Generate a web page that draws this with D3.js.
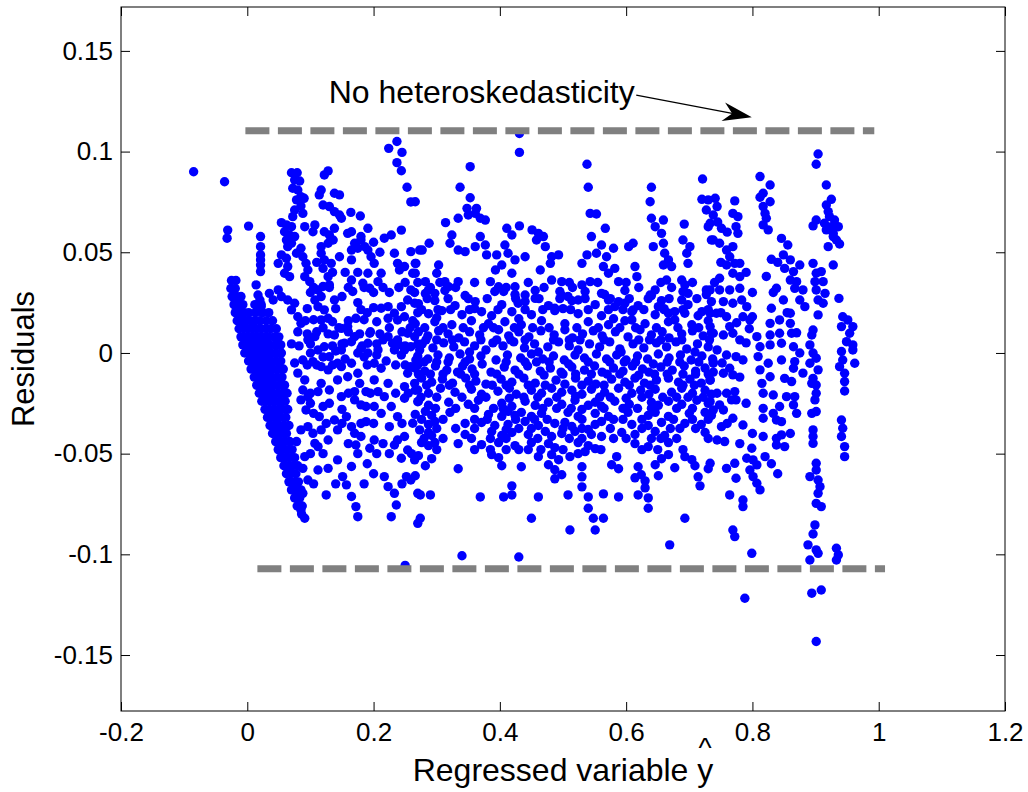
<!DOCTYPE html>
<html>
  <head>
    <meta charset="UTF-8" />
    <style>
      body {
        margin: 0;
        background: #fff;
      }
      svg text {
        font-family: "Liberation Sans", Arial, Helvetica, sans-serif;
        fill: #000;
      }
    </style>
  </head>
  <body>
    <svg></svg>
    <script src="https://d3js.org/d3.v7.min.js"></script>
    <script>
      // axis ticks
      const xTicks = [-0.2, 0, 0.2, 0.4, 0.6, 0.8, 1, 1.2];
      const xTickLabels = ["-0.2", "0", "0.2", "0.4", "0.6", "0.8", "1", "1.2"];
      const yTicks = [-0.15, -0.1, -0.05, 0, 0.05, 0.1, 0.15];
      const yTickLabels = ["-0.15", "-0.1", "-0.05", "0", "0.05", "0.1", "0.15"];

      // reference lines + annotation (data units)
      const upperBand = [[-0.003, 0.1104], [0.993, 0.1104]];
      const lowerBand = [[0.016, -0.1072], [1.01, -0.1072]];
      const noteText = "No heteroskedasticity";
      const noteAt = [0.129, 0.124];
      const arrowFrom = [0.616, 0.128];
      const arrowTo = [0.799, 0.1171];

      // isolated residuals, [yhat, residual]
      const outliers = [
        [-0.085, 0.09], [-0.036, 0.085], [-0.031, 0.061], [-0.032, 0.057], [0.002, 0.063],
        [0.224, 0.1016], [0.237, 0.105], [0.245, 0.0996], [0.237, 0.0945], [0.244, 0.0905],
        [0.253, 0.0823], [0.259, 0.075], [0.431, 0.109], [0.431, 0.0996], [0.353, 0.0925],
        [0.538, 0.0937], [0.54, 0.0823], [0.25, -0.1055], [0.34, -0.1007], [0.43, -0.1013],
        [0.669, -0.0953], [0.904, 0.0988], [0.901, 0.0937], [0.812, 0.0876], [0.828, 0.0834],
        [0.788, -0.1218], [0.894, -0.1193], [0.909, -0.1177], [0.901, -0.1433], [0.799, -0.0995]
      ];

      // the dense wedge near yhat = 0, rows of [residual, [yhat...]]
      const wedgeRows = [
        [0.036, [-0.025, -0.018]],
        [0.032, [-0.026, -0.019]],
        [0.028, [-0.024, -0.017, -0.01]],
        [0.024, [-0.021, -0.014, -0.007, 0.012, 0.022]],
        [0.02, [-0.019, -0.012, -0.005, 0.002, 0.013, 0.024, 0.034]],
        [0.016, [-0.016, -0.009, -0.002, 0.005, 0.012, 0.02, 0.03, 0.04]],
        [0.012, [-0.013, -0.006, 0.001, 0.008, 0.015, 0.022, 0.03, 0.037, 0.046]],
        [0.008, [-0.01, -0.003, 0.004, 0.011, 0.018, 0.026, 0.034, 0.043, 0.05]],
        [0.004, [-0.007, 0.0, 0.007, 0.014, 0.021, 0.028, 0.036, 0.045, 0.053]],
        [0.0, [-0.004, 0.003, 0.01, 0.017, 0.024, 0.031, 0.038, 0.046, 0.054]],
        [-0.004, [0.002, 0.009, 0.016, 0.023, 0.03, 0.037, 0.045, 0.053]],
        [-0.008, [0.006, 0.013, 0.02, 0.027, 0.034, 0.041, 0.049, 0.057]],
        [-0.012, [0.011, 0.018, 0.025, 0.032, 0.039, 0.047, 0.055]],
        [-0.016, [0.015, 0.022, 0.029, 0.036, 0.043, 0.051, 0.059]],
        [-0.02, [0.019, 0.026, 0.033, 0.04, 0.048, 0.056, 0.063]],
        [-0.024, [0.023, 0.03, 0.037, 0.044, 0.052, 0.06]],
        [-0.028, [0.028, 0.035, 0.042, 0.049, 0.056, 0.064]],
        [-0.032, [0.032, 0.039, 0.046, 0.053, 0.061]],
        [-0.036, [0.036, 0.043, 0.05, 0.058, 0.066]],
        [-0.04, [0.04, 0.047, 0.054, 0.062]],
        [-0.044, [0.045, 0.052, 0.059, 0.067, 0.078]],
        [-0.048, [0.049, 0.056, 0.063, 0.071]],
        [-0.052, [0.053, 0.06, 0.067, 0.075]],
        [-0.056, [0.058, 0.065, 0.072, 0.08]],
        [-0.06, [0.062, 0.069, 0.077]],
        [-0.064, [0.066, 0.073, 0.081]],
        [-0.068, [0.07, 0.078, 0.085]],
        [-0.072, [0.075, 0.083]],
        [-0.076, [0.079, 0.087]],
        [-0.08, [0.086]]
      ];

      // yhat 0.05 .. 0.27
      const leftPts = [
        [0.07, 0.0895], [0.079, 0.0895], [0.075, 0.0859], [0.083, 0.0854], [0.072, 0.0818],
        [0.08, 0.0809], [0.085, 0.0776], [0.09, 0.0768], [0.078, 0.076], [0.085, 0.073],
        [0.075, 0.071], [0.088, 0.0693], [0.072, 0.0677], [0.054, 0.0647], [0.062, 0.0636],
        [0.07, 0.0627], [0.059, 0.0602], [0.067, 0.0586], [0.075, 0.0578], [0.062, 0.0561],
        [0.07, 0.0545], [0.064, 0.0528], [0.128, 0.0904], [0.122, 0.0884], [0.117, 0.0809],
        [0.114, 0.0785], [0.138, 0.0793], [0.146, 0.0785], [0.12, 0.0735], [0.13, 0.0727],
        [0.138, 0.0702], [0.146, 0.0685], [0.149, 0.0669], [0.164, 0.0698], [0.179, 0.068],
        [0.091, 0.0627], [0.107, 0.0636], [0.104, 0.0602], [0.122, 0.0602], [0.13, 0.0586],
        [0.138, 0.0619], [0.136, 0.0561], [0.128, 0.0545], [0.117, 0.0528], [0.159, 0.0594],
        [0.165, 0.0602], [0.191, 0.0619], [0.18, 0.0578], [0.17, 0.0545], [0.175, 0.052],
        [0.054, 0.0487], [0.049, 0.0445], [0.062, 0.047], [0.064, 0.0429], [0.059, 0.0396],
        [0.067, 0.0379], [0.078, 0.0495], [0.085, 0.052], [0.088, 0.0478], [0.093, 0.0445],
        [0.096, 0.0412], [0.091, 0.0379], [0.099, 0.0354], [0.117, 0.0495], [0.122, 0.0462],
        [0.12, 0.042], [0.133, 0.0445], [0.146, 0.0478], [0.165, 0.0462], [0.165, 0.0511],
        [0.18, 0.0561], [0.186, 0.0528], [0.191, 0.0511], [0.196, 0.0478], [0.201, 0.0445],
        [0.191, 0.0396], [0.183, 0.0346], [0.194, 0.0321], [0.207, 0.0354], [0.212, 0.0396],
        [0.233, 0.0495], [0.238, 0.0445], [0.241, 0.0412], [0.249, 0.0429], [0.259, 0.0503],
        [0.267, 0.0445], [0.262, 0.0396], [0.273, 0.0511], [0.244, 0.061], [0.228, 0.0586],
        [0.217, 0.057], [0.021, 0.0578], [0.021, 0.0528], [0.021, 0.0487], [0.021, 0.0462],
        [0.021, 0.0437], [0.021, 0.0404], [0.014, 0.0338], [0.017, 0.0288], [0.02, 0.0263],
        [0.022, 0.023], [0.035, 0.0296], [0.041, 0.0263], [0.049, 0.0313], [0.054, 0.028],
        [0.064, 0.0263], [0.075, 0.0247], [0.07, 0.0214], [0.08, 0.018], [0.085, 0.0147],
        [0.107, 0.0263], [0.117, 0.028], [0.112, 0.023], [0.122, 0.0214], [0.128, 0.0172],
        [0.138, 0.0263], [0.117, 0.0164], [0.165, 0.0362], [0.167, 0.0305], [0.172, 0.0172],
        [0.159, 0.0131], [0.149, 0.0122], [0.212, 0.0222], [0.223, 0.023], [0.233, 0.0197],
        [0.244, 0.023], [0.254, 0.0263], [0.259, 0.0313], [0.265, 0.0247], [0.249, 0.018],
        [0.238, 0.0164], [0.223, 0.0172], [0.128, 0.0379], [0.13, 0.0338], [0.112, 0.0313],
        [0.075, -0.005], [0.088, -0.0035], [0.08, -0.01], [0.091, -0.0134], [0.088, -0.0184],
        [0.085, -0.0233], [0.096, -0.0217], [0.093, -0.0283], [0.085, -0.0382], [0.096, -0.0366],
        [0.104, -0.0399], [0.107, -0.0449], [0.112, -0.0465], [0.117, -0.0382], [0.104, -0.0043],
        [0.117, -0.0068], [0.128, -0.0084], [0.117, -0.0151], [0.112, -0.0192], [0.12, -0.0266],
        [0.114, -0.0316], [0.138, -0.0333], [0.157, -0.0316], [0.165, -0.0366], [0.17, -0.0399],
        [0.188, -0.0341], [0.172, -0.0457], [0.201, -0.0432], [0.194, -0.0473], [0.143, -0.0531],
        [0.128, -0.0573], [0.112, -0.0581], [0.151, -0.0614], [0.157, -0.0655], [0.165, -0.0564],
        [0.165, -0.0713], [0.172, -0.0763], [0.175, -0.0813], [0.125, -0.0705], [0.091, -0.0515],
        [0.088, -0.0573], [0.096, -0.0631], [0.088, -0.0697], [0.085, -0.078], [0.091, -0.0821],
        [0.138, 0.0089], [0.154, 0.0048], [0.17, 0.0081], [0.194, 0.0098], [0.18, 0.0023],
        [0.191, 0.0], [0.201, -0.0051], [0.212, -0.0076], [0.223, 0.0081], [0.238, 0.0065],
        [0.254, 0.0098], [0.233, 0.0015], [0.244, -0.001], [0.259, 0.0031], [0.267, -0.0035],
        [0.254, -0.0101], [0.265, -0.0151], [0.27, -0.0184], [0.223, -0.0151], [0.217, -0.0217],
        [0.228, -0.0266], [0.212, -0.03], [0.249, -0.0225], [0.27, -0.0242], [0.262, -0.0349],
        [0.225, -0.0366], [0.217, -0.0614], [0.223, -0.0664], [0.233, -0.0697], [0.236, -0.0755],
        [0.228, -0.0813], [0.252, -0.0614], [0.259, -0.0631], [0.27, -0.0697], [0.27, -0.0846],
        [0.244, -0.0523], [0.233, -0.0457], [0.238, -0.0432], [0.265, -0.0531], [0.165, 0.0056],
        [0.175, 0.0], [0.149, -0.0068], [0.175, -0.0101], [0.178, -0.0151], [0.188, -0.0192],
        [0.17, -0.0192], [0.18, -0.0258], [0.188, -0.0266], [0.17, -0.0233], [0.143, -0.0051],
        [0.122, 0.0031], [0.107, 0.0081], [0.23, 0.0048], [0.249, 0.0015], [0.265, 0.0081],
        [0.273, 0.0015], [0.259, -0.0068], [0.275, -0.0118], [0.096, 0.0065], [0.112, 0.0015],
        [0.13, -0.0018], [0.149, 0.0015], [0.165, -0.0051], [0.191, 0.0048], [0.207, 0.0015],
        [0.215, 0.0065], [0.13, -0.0184], [0.143, -0.0134], [0.149, -0.0217], [0.159, -0.0118],
        [0.201, -0.0134], [0.207, -0.0192], [0.201, -0.0266], [0.249, -0.0167], [0.238, -0.0316],
        [0.249, -0.0415], [0.273, -0.0382], [0.254, -0.0482], [0.18, -0.0415], [0.143, -0.0382],
        [0.128, -0.0432], [0.1, 0.0], [0.12, -0.002], [0.14, 0.001], [0.155, -0.003],
        [0.185, -0.002], [0.205, -0.001], [0.22, -0.004], [0.24, 0.004], [0.1, -0.025],
        [0.105, -0.03], [0.13, -0.025], [0.15, -0.028], [0.16, -0.045], [0.19, -0.055],
        [0.2, -0.06], [0.215, -0.045], [0.1, 0.03], [0.12, 0.033], [0.15, 0.028],
        [0.175, 0.025], [0.19, 0.02], [0.2, 0.03], [0.225, 0.03], [0.25, 0.035],
        [0.27, 0.02], [0.265, 0.03], [0.155, 0.04], [0.175, 0.04], [0.2, 0.055],
        [0.21, 0.05], [0.11, 0.045], [0.135, 0.04],
        [0.095, 0.022], [0.14, 0.022], [0.18, 0.0215], [0.2, 0.0225], [0.092, 0.016],
        [0.105, 0.0165], [0.135, 0.0155], [0.16, 0.016], [0.185, 0.0165], [0.205, 0.0155],
        [0.262, 0.016], [0.08, 0.0105], [0.095, 0.0095], [0.11, 0.0105], [0.128, 0.0095],
        [0.16, 0.0105], [0.178, 0.0095], [0.195, 0.0105], [0.21, 0.0095], [0.245, 0.0105],
        [0.07, 0.0045], [0.082, 0.0035], [0.1, 0.0045], [0.135, 0.0035], [0.15, 0.0045],
        [0.182, 0.0035], [0.205, 0.0045], [0.25, 0.0035], [0.27, 0.0045]
      ];

      // yhat 0.27 .. 0.74
      const midPts = [
        [0.337, 0.0823], [0.353, 0.0771], [0.348, 0.0718], [0.363, 0.0718], [0.35, 0.0685],
        [0.369, 0.0669], [0.377, 0.066], [0.361, 0.0693], [0.314, 0.0647], [0.334, 0.0669],
        [0.324, 0.0586], [0.321, 0.0545], [0.334, 0.0511], [0.345, 0.0503], [0.361, 0.0528],
        [0.369, 0.0578], [0.377, 0.0536], [0.379, 0.0487], [0.288, 0.0545], [0.277, 0.0511],
        [0.266, 0.0751], [0.266, 0.0445], [0.266, 0.0396], [0.282, 0.0354], [0.303, 0.0437],
        [0.3, 0.0396], [0.287, 0.0313], [0.297, 0.0296], [0.313, 0.0354], [0.319, 0.0329],
        [0.334, 0.0354], [0.411, 0.0619], [0.419, 0.0586], [0.431, 0.0631], [0.408, 0.0536],
        [0.413, 0.0495], [0.395, 0.0487], [0.403, 0.0437], [0.424, 0.0462], [0.44, 0.0478],
        [0.419, 0.0396], [0.393, 0.0412], [0.385, 0.0354], [0.398, 0.0329], [0.406, 0.0305],
        [0.424, 0.0329], [0.451, 0.0611], [0.461, 0.0594], [0.469, 0.0578], [0.458, 0.0561],
        [0.472, 0.0528], [0.464, 0.0412], [0.482, 0.0478], [0.493, 0.0487], [0.48, 0.0445],
        [0.482, 0.0362], [0.498, 0.0354], [0.495, 0.0305], [0.487, 0.0222], [0.456, 0.0271],
        [0.44, 0.0288], [0.429, 0.0247], [0.543, 0.0693], [0.553, 0.069], [0.545, 0.0578],
        [0.567, 0.0619], [0.538, 0.0487], [0.53, 0.0445], [0.553, 0.0495], [0.561, 0.0536],
        [0.569, 0.0478], [0.58, 0.052], [0.564, 0.0429], [0.572, 0.0396], [0.582, 0.042],
        [0.588, 0.0354], [0.53, 0.0338], [0.543, 0.0354], [0.508, 0.028], [0.524, 0.0263],
        [0.561, 0.0296], [0.572, 0.0263], [0.582, 0.023], [0.598, 0.0247], [0.611, 0.0214],
        [0.609, 0.0164], [0.604, 0.0528], [0.611, 0.0545], [0.614, 0.0429], [0.617, 0.0379],
        [0.64, 0.0823], [0.638, 0.0751], [0.64, 0.0669], [0.659, 0.066], [0.646, 0.0627],
        [0.656, 0.0594], [0.659, 0.0545], [0.643, 0.0528], [0.661, 0.0495], [0.667, 0.0462],
        [0.672, 0.0429], [0.659, 0.0437], [0.664, 0.0362], [0.688, 0.0362], [0.693, 0.0338],
        [0.698, 0.0296], [0.688, 0.0263], [0.646, 0.0313], [0.638, 0.0288], [0.651, 0.023],
        [0.667, 0.0197], [0.677, 0.0164], [0.693, 0.0197], [0.692, 0.064], [0.69, 0.0561],
        [0.701, 0.0528], [0.696, 0.0495], [0.698, 0.0445], [0.721, 0.0864], [0.72, 0.0763],
        [0.73, 0.076], [0.727, 0.071], [0.73, 0.0627], [0.735, 0.0561], [0.727, 0.0313],
        [0.733, 0.0197]
      ];

      // central band yhat 0.27 .. 0.74, residual -0.09 .. 0.03
      const midBand = [
        [0.282, 0.0295], [0.313, 0.031], [0.345, 0.0285], [0.392, 0.0305], [0.424, 0.029],
        [0.456, 0.031], [0.498, 0.0285], [0.535, 0.0305], [0.566, 0.029], [0.598, 0.031],
        [0.64, 0.0285], [0.69, 0.0305], [0.727, 0.029],
        [0.271, 0.0245], [0.297, 0.026], [0.329, 0.0235], [0.361, 0.0255], [0.403, 0.024],
        [0.44, 0.0255], [0.477, 0.0235], [0.514, 0.026], [0.551, 0.024], [0.588, 0.0255],
        [0.619, 0.0235], [0.656, 0.026], [0.698, 0.024], [0.735, 0.0255],
        [0.287, 0.0195], [0.308, 0.021], [0.34, 0.019], [0.371, 0.0205], [0.387, 0.0185],
        [0.419, 0.0205], [0.45, 0.019], [0.487, 0.021], [0.524, 0.0195], [0.561, 0.0185],
        [0.609, 0.0205], [0.646, 0.019], [0.677, 0.0205], [0.714, 0.0185],
        [0.266, 0.0145], [0.297, 0.0155], [0.324, 0.014], [0.355, 0.016], [0.382, 0.0145],
        [0.408, 0.0155], [0.434, 0.014], [0.466, 0.016], [0.503, 0.0145], [0.54, 0.0155],
        [0.572, 0.014], [0.598, 0.016], [0.63, 0.0145], [0.667, 0.0155], [0.704, 0.014],
        [0.73, 0.016],
        [0.271, 0.0105], [0.286, 0.0085], [0.303, 0.011], [0.318, 0.0095], [0.335, 0.0075],
        [0.352, 0.0105], [0.368, 0.009], [0.398, 0.0115], [0.414, 0.0085], [0.43, 0.0105],
        [0.446, 0.008], [0.465, 0.011], [0.486, 0.009], [0.503, 0.0115], [0.515, 0.0075],
        [0.531, 0.0095], [0.548, 0.011], [0.562, 0.0085], [0.583, 0.0105], [0.603, 0.008],
        [0.622, 0.0115], [0.64, 0.009], [0.657, 0.0105], [0.668, 0.0075], [0.688, 0.0095],
        [0.705, 0.011], [0.722, 0.0085], [0.735, 0.01],
        [0.277, 0.0045], [0.294, 0.0025], [0.311, 0.005], [0.327, 0.003], [0.344, 0.0055],
        [0.36, 0.0035], [0.378, 0.0015], [0.389, 0.005], [0.405, 0.0035], [0.422, 0.0055],
        [0.439, 0.0025], [0.455, 0.0045], [0.476, 0.003], [0.493, 0.0055], [0.51, 0.0035],
        [0.524, 0.0015], [0.542, 0.0045], [0.558, 0.003], [0.574, 0.0055], [0.59, 0.002],
        [0.611, 0.0045], [0.628, 0.0025], [0.648, 0.005], [0.664, 0.003], [0.679, 0.0055],
        [0.696, 0.002], [0.713, 0.0045], [0.73, 0.003],
        [0.27, -0.0015], [0.286, -0.003], [0.302, -0.001], [0.32, -0.0025], [0.337, -0.0005],
        [0.352, -0.003], [0.37, -0.0015], [0.394, -0.0035], [0.412, -0.001], [0.433, -0.0025],
        [0.45, -0.0005], [0.468, -0.003], [0.485, -0.0015], [0.502, -0.0035], [0.519, -0.001],
        [0.534, -0.0025], [0.553, -0.0005], [0.569, -0.003], [0.585, -0.001], [0.6, -0.0035],
        [0.618, -0.0015], [0.634, -0.003], [0.651, -0.0005], [0.668, -0.0025], [0.686, -0.001],
        [0.703, -0.0035], [0.72, -0.0015], [0.737, -0.003],
        [0.266, -0.0075], [0.281, -0.009], [0.298, -0.0065], [0.316, -0.0085], [0.333, -0.0095],
        [0.341, -0.0065], [0.356, -0.008], [0.386, -0.0095], [0.407, -0.007], [0.424, -0.0085],
        [0.444, -0.0065], [0.464, -0.009], [0.48, -0.0075], [0.497, -0.0095], [0.514, -0.007],
        [0.534, -0.0085], [0.55, -0.0065], [0.562, -0.0095], [0.58, -0.0075], [0.595, -0.009],
        [0.61, -0.0065], [0.626, -0.008], [0.636, -0.0095], [0.655, -0.007], [0.673, -0.0085],
        [0.692, -0.0065], [0.71, -0.009], [0.725, -0.0075], [0.738, -0.0095],
        [0.276, -0.0125], [0.292, -0.0145], [0.309, -0.013], [0.325, -0.015], [0.346, -0.0125],
        [0.362, -0.014], [0.378, -0.0155], [0.402, -0.013], [0.419, -0.0145], [0.438, -0.0125],
        [0.456, -0.015], [0.489, -0.0135], [0.503, -0.0155], [0.52, -0.0125], [0.54, -0.014],
        [0.552, -0.0155], [0.577, -0.013], [0.598, -0.0145], [0.614, -0.0125], [0.629, -0.015],
        [0.648, -0.0135], [0.667, -0.0125], [0.683, -0.0145], [0.701, -0.013], [0.719, -0.015],
        [0.733, -0.0135],
        [0.266, -0.0185], [0.287, -0.02], [0.306, -0.0175], [0.329, -0.0195], [0.355, -0.018],
        [0.371, -0.0205], [0.397, -0.019], [0.415, -0.0175], [0.426, -0.0205], [0.45, -0.0185],
        [0.466, -0.02], [0.482, -0.0175], [0.498, -0.0195], [0.514, -0.0185], [0.53, -0.0205],
        [0.545, -0.018], [0.566, -0.0195], [0.588, -0.0175], [0.609, -0.02], [0.623, -0.0185],
        [0.636, -0.0205], [0.646, -0.018], [0.672, -0.0195], [0.688, -0.0175], [0.705, -0.02],
        [0.725, -0.0185], [0.735, -0.0205],
        [0.271, -0.024], [0.287, -0.026], [0.319, -0.0245], [0.35, -0.0255], [0.366, -0.0235],
        [0.403, -0.025], [0.419, -0.0265], [0.44, -0.024], [0.456, -0.026], [0.477, -0.0245],
        [0.498, -0.0255], [0.519, -0.0235], [0.54, -0.026], [0.551, -0.0245], [0.561, -0.0265],
        [0.582, -0.024], [0.605, -0.0255], [0.64, -0.0245], [0.651, -0.026], [0.667, -0.024],
        [0.688, -0.0255], [0.712, -0.0235], [0.73, -0.025],
        [0.266, -0.0305], [0.282, -0.029], [0.292, -0.031], [0.321, -0.0295], [0.382, -0.0305],
        [0.403, -0.0315], [0.413, -0.029], [0.424, -0.031], [0.434, -0.0295], [0.45, -0.0315],
        [0.466, -0.03], [0.508, -0.0295], [0.524, -0.0315], [0.551, -0.03], [0.572, -0.0315],
        [0.603, -0.0295], [0.635, -0.031], [0.646, -0.0295], [0.667, -0.0315], [0.7, -0.03],
        [0.725, -0.0295], [0.735, -0.031],
        [0.287, -0.0355], [0.297, -0.034], [0.345, -0.035], [0.371, -0.0345], [0.392, -0.036],
        [0.413, -0.0355], [0.44, -0.034], [0.461, -0.036], [0.487, -0.035], [0.503, -0.0345],
        [0.514, -0.0365], [0.551, -0.0355], [0.561, -0.034], [0.609, -0.0355], [0.635, -0.036],
        [0.656, -0.0345], [0.693, -0.035], [0.719, -0.0355],
        [0.287, -0.0395], [0.292, -0.041], [0.345, -0.0405], [0.387, -0.039], [0.403, -0.041],
        [0.419, -0.0395], [0.445, -0.0405], [0.472, -0.039], [0.482, -0.0415], [0.498, -0.04],
        [0.519, -0.039], [0.545, -0.0405], [0.561, -0.0415], [0.593, -0.0395], [0.614, -0.0405],
        [0.646, -0.039], [0.661, -0.041], [0.725, -0.0395],
        [0.276, -0.0445], [0.287, -0.046], [0.297, -0.0445], [0.334, -0.045], [0.371, -0.0455],
        [0.398, -0.0445], [0.424, -0.046], [0.45, -0.0445], [0.477, -0.045], [0.487, -0.047],
        [0.524, -0.0445], [0.54, -0.046], [0.551, -0.0475], [0.614, -0.045], [0.635, -0.0465],
        [0.667, -0.0445],
        [0.271, -0.051], [0.292, -0.0525], [0.387, -0.0505], [0.398, -0.052], [0.461, -0.0515],
        [0.482, -0.0505], [0.493, -0.053], [0.511, -0.0515], [0.524, -0.05], [0.585, -0.0515],
        [0.656, -0.0525], [0.667, -0.0505], [0.693, -0.0515], [0.704, -0.053],
        [0.282, -0.056], [0.334, -0.0575], [0.403, -0.056], [0.434, -0.0565], [0.477, -0.0555],
        [0.487, -0.058], [0.53, -0.0565], [0.577, -0.0555], [0.588, -0.0575], [0.619, -0.0565],
        [0.646, -0.0555], [0.677, -0.057], [0.709, -0.056], [0.73, -0.0575],
        [0.266, -0.061], [0.487, -0.0625], [0.498, -0.0605], [0.53, -0.0615], [0.614, -0.062],
        [0.624, -0.0605], [0.63, -0.0635], [0.651, -0.061], [0.714, -0.0615],
        [0.419, -0.066], [0.53, -0.0665], [0.63, -0.067], [0.717, -0.066],
        [0.274, -0.0705], [0.29, -0.0705], [0.369, -0.0715], [0.406, -0.0715], [0.419, -0.0705],
        [0.461, -0.0715], [0.508, -0.0705], [0.54, -0.0715], [0.564, -0.07], [0.588, -0.0715],
        [0.619, -0.0705], [0.635, -0.072],
        [0.54, -0.0771], [0.635, -0.0771], [0.274, -0.0821], [0.45, -0.0821], [0.548, -0.0821],
        [0.564, -0.0821], [0.693, -0.0821], [0.511, -0.0879], [0.551, -0.0879],
        [0.283, 0.0065], [0.352, 0.0005], [0.417, 0.0065], [0.461, 0.0005], [0.527, 0.0065],
        [0.592, 0.0005], [0.655, 0.0065], [0.709, 0.0005], [0.3, -0.0045], [0.372, -0.0055],
        [0.44, -0.0045], [0.509, -0.0055], [0.574, -0.0045], [0.643, -0.0055], [0.715, -0.0045],
        [0.29, -0.0105], [0.395, -0.0105], [0.47, -0.011], [0.545, -0.0105], [0.62, -0.011],
        [0.69, -0.0105], [0.415, -0.0225], [0.52, -0.0215], [0.6, -0.0225], [0.68, -0.022],
        [0.405, -0.0275], [0.53, -0.028], [0.64, -0.0275], [0.41, -0.038], [0.54, -0.038],
        [0.64, -0.0425], [0.43, -0.048], [0.535, -0.049], [0.3, 0.0175], [0.36, 0.022],
        [0.43, 0.017], [0.5, 0.022], [0.58, 0.017], [0.66, 0.022], [0.72, 0.0205]
      ];

      // extra fill of the busy band, rows of [residual, [yhat...]]
      const fillRows = [
        [0.035, [0.27, 0.305, 0.36, 0.445, 0.51, 0.555, 0.6, 0.655, 0.705, 0.74]],
        [0.0325, [0.29, 0.33, 0.41, 0.47, 0.515, 0.62, 0.672, 0.105, 0.13, 0.16, 0.185, 0.215, 0.24]],
        [0.027, [0.285, 0.318, 0.35, 0.38, 0.425, 0.462, 0.495, 0.535, 0.575, 0.605, 0.635, 0.668, 0.712]],
        [0.0215, [0.276, 0.302, 0.322, 0.352, 0.397, 0.44, 0.468, 0.512, 0.54, 0.572, 0.595, 0.628, 0.66, 0.69, 0.73]],
        [0.0125, [0.281, 0.31, 0.342, 0.374, 0.39, 0.423, 0.452, 0.478, 0.522, 0.556, 0.59, 0.615, 0.648, 0.682, 0.715, 0.12, 0.145, 0.225, 0.258]],
        [0.0065, [0.3, 0.325, 0.37, 0.395, 0.44, 0.485, 0.51, 0.565, 0.62, 0.637, 0.688, 0.732]],
        [-0.0045, [0.28, 0.318, 0.345, 0.41, 0.458, 0.478, 0.54, 0.597, 0.615, 0.665, 0.685, 0.738]],
        [-0.006, [0.095, 0.11, 0.135, 0.19, 0.235, 0.25, 0.27]],
        [-0.0105, [0.271, 0.31, 0.338, 0.36, 0.43, 0.5, 0.52, 0.57, 0.59, 0.645, 0.665, 0.71, 0.73]],
        [-0.016, [0.284, 0.32, 0.352, 0.388, 0.41, 0.445, 0.472, 0.53, 0.565, 0.605, 0.638, 0.69, 0.708]],
        [-0.02, [0.1, 0.16, 0.195, 0.235, 0.255]],
        [-0.022, [0.275, 0.3, 0.34, 0.378, 0.438, 0.46, 0.49, 0.558, 0.575, 0.625, 0.658, 0.698, 0.722]],
        [-0.0275, [0.298, 0.33, 0.36, 0.39, 0.468, 0.49, 0.513, 0.565, 0.595, 0.618, 0.68, 0.705]],
        [-0.033, [0.276, 0.31, 0.36, 0.38, 0.425, 0.455, 0.475, 0.53, 0.58, 0.595, 0.625, 0.675, 0.705, 0.73]],
        [-0.035, [0.125, 0.15, 0.18, 0.2, 0.245]],
        [-0.0375, [0.3, 0.33, 0.36, 0.43, 0.45, 0.5, 0.53, 0.575, 0.625, 0.67, 0.685, 0.71]],
        [-0.0425, [0.28, 0.31, 0.355, 0.385, 0.41, 0.46, 0.51, 0.53, 0.58, 0.6, 0.655, 0.68, 0.73]],
        [-0.048, [0.3, 0.36, 0.385, 0.41, 0.445, 0.465, 0.5, 0.56, 0.625, 0.65, 0.69]],
        [-0.05, [0.1, 0.12, 0.175, 0.205, 0.225, 0.26]],
        [-0.065, [0.105, 0.14, 0.185, 0.245]]
      ];

      // yhat 0.73 .. 0.96
      const rightPts = [
        [0.812, 0.0773], [0.817, 0.0793], [0.828, 0.0751], [0.817, 0.0727], [0.82, 0.0693],
        [0.822, 0.0669], [0.817, 0.0636], [0.825, 0.0611], [0.917, 0.0834], [0.925, 0.0763],
        [0.917, 0.0735], [0.92, 0.0702], [0.901, 0.066], [0.896, 0.0631], [0.914, 0.0644],
        [0.922, 0.0677], [0.93, 0.066], [0.936, 0.0627], [0.928, 0.0594], [0.933, 0.0561],
        [0.938, 0.0541], [0.92, 0.0528], [0.925, 0.0627], [0.917, 0.0611], [0.928, 0.0578],
        [0.741, 0.0768], [0.744, 0.0727], [0.738, 0.0685], [0.733, 0.0644], [0.751, 0.0619],
        [0.772, 0.0755], [0.769, 0.0693], [0.777, 0.0677], [0.774, 0.0627], [0.777, 0.0594],
        [0.738, 0.0561], [0.748, 0.0545], [0.759, 0.0511], [0.769, 0.0528], [0.764, 0.0478],
        [0.759, 0.0437], [0.772, 0.0445], [0.78, 0.0445], [0.769, 0.0396], [0.78, 0.0379],
        [0.748, 0.0371], [0.733, 0.0313], [0.748, 0.0313], [0.764, 0.0313], [0.78, 0.0321],
        [0.754, 0.0255], [0.769, 0.0247], [0.783, 0.0263], [0.791, 0.023], [0.743, 0.0197],
        [0.759, 0.018], [0.785, 0.018], [0.796, 0.0164], [0.733, 0.0131], [0.764, 0.0131],
        [0.846, 0.0569], [0.856, 0.0536], [0.849, 0.0487], [0.86, 0.0462], [0.851, 0.042],
        [0.865, 0.0404], [0.86, 0.0362], [0.87, 0.0354], [0.875, 0.0437], [0.867, 0.0321],
        [0.88, 0.0313], [0.875, 0.0263], [0.883, 0.023], [0.86, 0.0197], [0.849, 0.0263],
        [0.83, 0.0465], [0.838, 0.0321], [0.83, 0.0222], [0.828, 0.0147], [0.843, 0.0164],
        [0.86, 0.0147], [0.896, 0.0445], [0.901, 0.0396], [0.909, 0.0404], [0.899, 0.0354],
        [0.912, 0.0354], [0.901, 0.0313], [0.915, 0.0296], [0.904, 0.0263], [0.912, 0.0247],
        [0.904, 0.0189], [0.928, 0.0437], [0.937, 0.0271], [0.943, 0.018], [0.951, 0.0164],
        [0.941, 0.0131], [0.959, 0.0131], [0.896, 0.0114], [0.795, 0.012], [0.8, 0.018],
        [0.738, 0.0098], [0.754, 0.0089], [0.769, 0.0098], [0.78, 0.0065], [0.744, 0.0015],
        [0.759, -0.001], [0.774, -0.0018], [0.785, -0.0035], [0.738, -0.0051], [0.764, -0.0076],
        [0.754, -0.0101], [0.769, -0.0109], [0.733, -0.0134], [0.744, -0.02], [0.759, -0.02],
        [0.772, -0.0192], [0.733, -0.0242], [0.748, -0.0258], [0.767, -0.0233], [0.774, -0.0233],
        [0.738, -0.0283], [0.754, -0.0283], [0.769, -0.0324], [0.785, -0.0358], [0.751, -0.0366],
        [0.744, -0.0432], [0.756, -0.044], [0.733, -0.0548], [0.799, -0.0473], [0.791, -0.0523],
        [0.801, -0.0531], [0.807, -0.0556], [0.796, -0.0581], [0.801, -0.0614], [0.807, -0.0647],
        [0.812, -0.068], [0.772, -0.0548], [0.759, -0.0573], [0.774, -0.0622], [0.82, -0.0515],
        [0.764, -0.0705], [0.785, -0.073], [0.785, -0.0763], [0.769, -0.0879], [0.772, -0.0912],
        [0.807, 0.0081], [0.828, 0.0089], [0.843, 0.0098], [0.862, 0.0098], [0.812, 0.0031],
        [0.828, 0.004], [0.846, 0.0048], [0.865, 0.0031], [0.809, -0.0018], [0.825, -0.0051],
        [0.846, -0.0035], [0.867, -0.0043], [0.865, -0.0076], [0.812, -0.0084], [0.828, -0.0118],
        [0.851, -0.0126], [0.862, -0.0142], [0.815, -0.0151], [0.817, -0.02], [0.833, -0.0209],
        [0.854, -0.0217], [0.867, -0.0217], [0.865, -0.0258], [0.817, -0.0275], [0.843, -0.0266],
        [0.833, -0.03], [0.817, -0.0324], [0.838, -0.0333], [0.846, -0.0341], [0.817, -0.0415],
        [0.838, -0.0424], [0.846, -0.0407], [0.838, -0.0457], [0.851, -0.0465],
        [0.894, 0.0089], [0.891, 0.004], [0.896, 0.0], [0.901, -0.0026], [0.891, -0.0051],
        [0.904, -0.0084], [0.896, -0.0126], [0.894, -0.0151], [0.901, -0.0159], [0.901, -0.02],
        [0.899, -0.0233], [0.894, -0.03], [0.901, -0.0291], [0.896, -0.0382], [0.896, -0.0415],
        [0.896, -0.0449], [0.901, -0.0548], [0.901, -0.0581], [0.891, -0.0614], [0.904, -0.0631],
        [0.907, -0.0664], [0.904, -0.0697], [0.901, -0.0747], [0.909, -0.0763], [0.899, -0.0854],
        [0.896, -0.0899], [0.888, -0.0953], [0.901, -0.0978], [0.904, -0.0995], [0.891, -0.1028],
        [0.954, 0.0098], [0.949, 0.0056], [0.959, 0.004], [0.941, 0.0007], [0.959, 0.0015],
        [0.943, -0.0035], [0.962, -0.0051], [0.938, -0.0068], [0.946, -0.0101], [0.946, -0.0142],
        [0.946, -0.0189], [0.941, -0.0333], [0.943, -0.0374], [0.941, -0.0415], [0.946, -0.0465],
        [0.946, -0.0515], [0.933, -0.097], [0.936, -0.1003], [0.933, -0.1028],
        [0.75, 0.02], [0.775, 0.015], [0.79, 0.005], [0.752, -0.005], [0.78, -0.012],
        [0.79, -0.025], [0.76, -0.035], [0.78, -0.045], [0.8, -0.04], [0.83, -0.055],
        [0.84, -0.06], [0.855, 0.02], [0.87, 0.01], [0.875, 0.0], [0.88, -0.01],
        [0.87, -0.03], [0.86, -0.04], [0.833, 0.03], [0.822, 0.038], [0.84, 0.045],
        [0.8, 0.03], [0.79, 0.04], [0.75, 0.045], [0.76, 0.06], [0.745, 0.065]
      ];

      const rowsToPts = (rows) => rows.flatMap(([y, xs]) => xs.map((x) => [x, y]));
      const points = [].concat(
        outliers,
        rowsToPts(wedgeRows),
        leftPts,
        midPts,
        midBand,
        rowsToPts(fillRows),
        rightPts
      );

      let width = 1028,
        height = 792;
      let margin = { top: 7, right: 23, bottom: 81, left: 121 };

      let svg = d3
        .select("svg")
        .attr("width", width)
        .attr("height", height)
        .attr("viewBox", "0 0 " + width + " " + height);

      let x = d3
        .scaleLinear()
        .domain([-0.2, 1.2])
        .range([margin.left, width - margin.right]);
      let y = d3
        .scaleLinear()
        .domain([-0.1778, 0.1718])
        .range([height - margin.bottom, margin.top]);

      // points
      svg
        .append("g")
        .attr("id", "dots")
        .selectAll("circle")
        .data(points)
        .enter()
        .append("circle")
        .attr("cx", (d) => x(d[0]))
        .attr("cy", (d) => y(d[1]))
        .attr("r", 4.7)
        .attr("fill", "#0000ff");

      // dashed bands
      let line = d3
        .line()
        .x((d) => x(d[0]))
        .y((d) => y(d[1]));
      svg
        .append("g")
        .selectAll("path")
        .data([upperBand, lowerBand])
        .enter()
        .append("path")
        .attr("d", line)
        .attr("fill", "none")
        .attr("stroke", "#808080")
        .attr("stroke-width", 7)
        .attr("stroke-dasharray", "24,8.5");

      // annotation with arrow
      let ax0 = x(arrowFrom[0]),
        ay0 = y(arrowFrom[1]),
        ax1 = x(arrowTo[0]),
        ay1 = y(arrowTo[1]);
      let ang = (Math.atan2(ay1 - ay0, ax1 - ax0) * 180) / Math.PI;
      let len = Math.hypot(ax1 - ax0, ay1 - ay0);
      let arrow = svg
        .append("g")
        .attr("transform", "translate(" + ax0 + "," + ay0 + ") rotate(" + ang + ")");
      arrow
        .append("line")
        .attr("x1", 0)
        .attr("y1", 0)
        .attr("x2", len - 20)
        .attr("y2", 0)
        .attr("stroke", "#000")
        .attr("stroke-width", 1.2);
      arrow
        .append("path")
        .attr(
          "d",
          "M" + len + ",0L" + (len - 29) + ",-9.5L" + (len - 20) + ",0L" + (len - 29) + ",9.5Z"
        )
        .attr("fill", "#000");

      svg
        .append("text")
        .attr("x", x(noteAt[0]))
        .attr("y", y(noteAt[1]))
        .style("font-size", "32px")
        .text(noteText);

      // axes: inward ticks on all four sides
      svg
        .append("g")
        .attr("transform", "translate(0," + (height - margin.bottom) + ")")
        .call(
          d3
            .axisBottom(x)
            .tickValues(xTicks)
            .tickFormat((d, i) => xTickLabels[i])
            .tickSizeInner(-9)
            .tickSizeOuter(0)
            .tickPadding(12)
        );
      svg
        .append("g")
        .attr("transform", "translate(" + margin.left + ",0)")
        .call(
          d3
            .axisLeft(y)
            .tickValues(yTicks)
            .tickFormat((d, i) => yTickLabels[i])
            .tickSizeInner(-9)
            .tickSizeOuter(0)
            .tickPadding(8)
        );
      svg
        .append("g")
        .attr("transform", "translate(0," + margin.top + ")")
        .call(d3.axisTop(x).tickValues(xTicks).tickFormat("").tickSizeInner(-9).tickSizeOuter(0));
      svg
        .append("g")
        .attr("transform", "translate(" + (width - margin.right) + ",0)")
        .call(d3.axisRight(y).tickValues(yTicks).tickFormat("").tickSizeInner(-9).tickSizeOuter(0));

      svg.selectAll(".tick text").style("font-size", "26px").style("font-family", null);
      svg.selectAll(".domain").remove();
      svg.selectAll(".tick line").attr("stroke", "#000");

      svg
        .append("rect")
        .attr("x", margin.left)
        .attr("y", margin.top)
        .attr("width", width - margin.left - margin.right)
        .attr("height", height - margin.top - margin.bottom)
        .attr("fill", "none")
        .attr("stroke", "#000")
        .attr("stroke-width", 1);

      // x label, with the hat over the y as part of the same text
      let xlab = svg
        .append("text")
        .attr("x", (margin.left + width - margin.right) / 2)
        .attr("y", 781)
        .attr("text-anchor", "middle")
        .style("font-size", "32px");
      xlab.append("tspan").text("Regressed variable y");
      xlab
        .append("tspan")
        .attr("x", 705)
        .attr("y", 757)
        .style("font-size", "28px")
        .text("^");

      svg
        .append("text")
        .attr("transform", "translate(34," + (margin.top + height - margin.bottom) / 2 + ") rotate(-90)")
        .attr("text-anchor", "middle")
        .style("font-size", "31px")
        .text("Residuals");
    </script>
  </body>
</html>
